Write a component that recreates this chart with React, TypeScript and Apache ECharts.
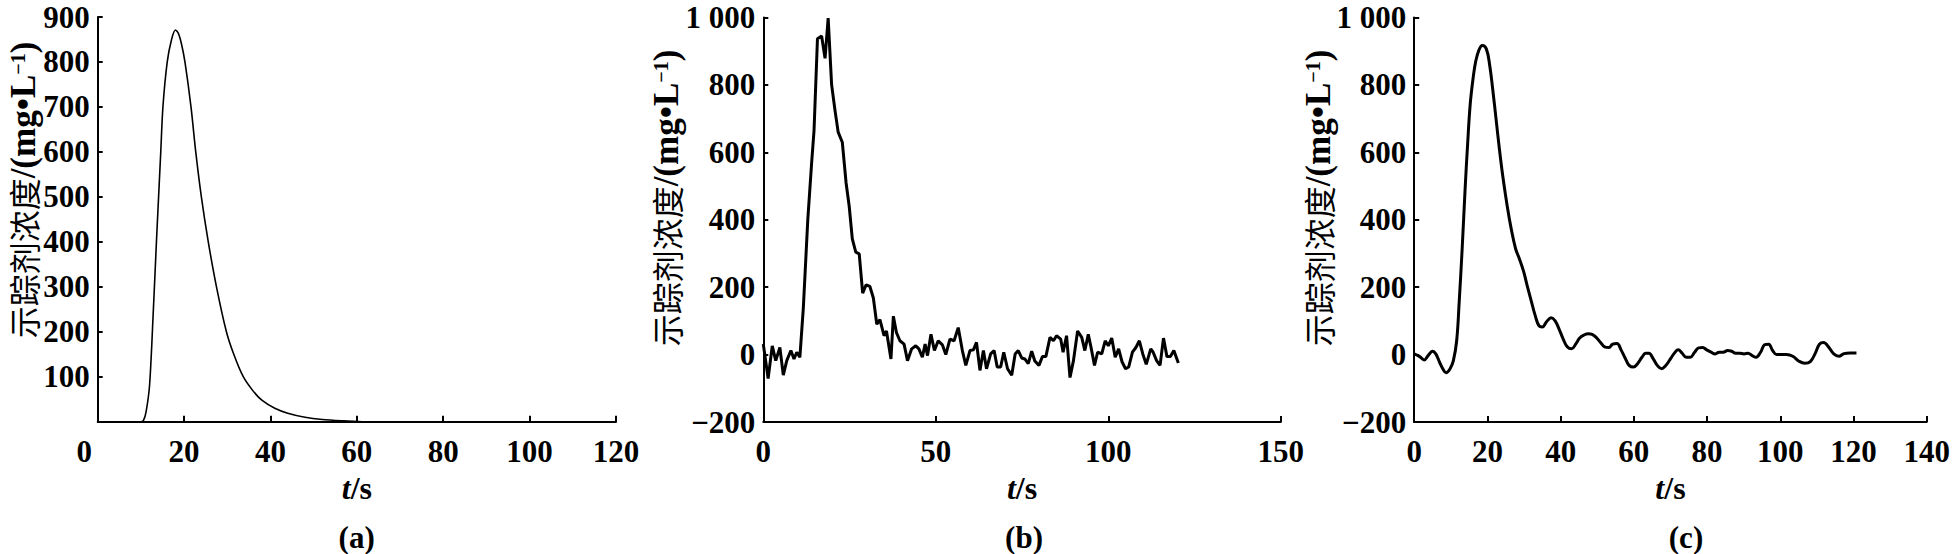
import React, { useEffect, useRef } from "react";
import * as echarts from "echarts";

// ---------- data ----------
// (a) simulated curve
const tA = [0, 10, 10.6, 11.2, 12, 12.8, 13.6, 14.6, 15.1, 16.1, 17.1, 18, 18.7, 19.4, 20.2, 21.6, 22.7, 24, 25.6, 27.5, 29.8, 31.5, 33.7, 36, 38, 41, 44, 48, 52, 57, 62, 120];
const vA = [0, 0, 3, 22, 80, 230, 400, 600, 700, 800, 850, 871, 863, 840, 800, 700, 600, 500, 400, 300, 200, 150, 100, 68, 48, 30, 19, 10, 5, 2, 0, 0];

// (b) measured (noisy) curve
const tB = [0, 1.4, 2.6, 3.6, 4.8, 5.8, 6.8, 8, 8.9, 9.7, 10.6, 11.6, 12.9, 14, 14.7, 15.7, 16.9, 17.9, 18.8, 19.8, 20.8, 21.7, 22.9, 24, 24.9, 25.8, 26.8, 27.8, 28.8, 29.8, 30.9, 31.9, 32.9, 33.8, 35, 35.7, 37, 37.7, 38.6, 39.6, 40.8, 41.8, 43, 44.2, 45.1, 46.1, 46.9, 47.6, 48.6, 49.6, 50.7, 51.9, 52.9, 54.1, 55.3, 56.5, 57.7, 58.7, 59.9, 60.9, 61.8, 62.8, 63.8, 64.7, 65.9, 66.9, 67.8, 68.8, 69.7, 70.8, 72, 73, 73.9, 74.9, 75.8, 76.8, 77.8, 78.7, 79.9, 80.9, 81.9, 83.1, 84.1, 85, 86.2, 86.9, 87.9, 88.9, 89.9, 91.1, 92.3, 93.2, 94.2, 95, 96, 96.9, 98.1, 99.1, 100, 101, 102, 103, 104, 105, 105.9, 107, 108, 109, 110, 111, 112.3, 113, 114, 115, 116, 117, 118, 119, 120.3];
const vB = [31, -71, 26, -18, 21, -61, -18, 12, -13, 7, -8, 138, 401, 567, 664, 937, 945, 879, 998, 801, 723, 660, 630, 509, 440, 343, 304, 299, 182, 207, 202, 168, 90, 104, 56, 70, -13, 114, 65, 41, 31, -18, 17, 26, 17, -8, 31, -3, 60, 12, 41, 29, 0, 46, 41, 80, 12, -32, 12, 14, 36, -47, 12, -42, 2, 12, -37, -37, 7, -42, -61, 2, 12, -10, -13, -27, 10, -19, -32, -6, -6, 51, 41, 56, 46, 7, 56, -68, -18, 70, 51, 12, 60, 21, -32, 7, 2, 41, 26, 49, -8, 17, -22, -42, -37, 7, 21, 41, 2, -29, 17, 7, -18, -32, 49, -6, -6, 12, -25];

// (c) filtered curve
const tC = [0, 1.5, 2.7, 3.8, 5, 5.9, 6.9, 7.8, 8.7, 9.8, 10.7, 11.6, 12.3, 13.1, 13.9, 14.6, 15.3, 16.1, 16.8, 17.7, 18.6, 19.7, 20.6, 21.5, 22.4, 23.3, 24.2, 25.4, 26.5, 27.7, 28.7, 29.9, 30.8, 32, 33.1, 34.1, 35, 36.2, 37.4, 38.5, 39.6, 40.7, 41.8, 43, 44.1, 45.2, 46.4, 47.5, 48.6, 49.7, 50.9, 52, 53.2, 54.2, 55.4, 56.5, 57.6, 58.7, 59.9, 61, 62.2, 63.2, 64.1, 65.3, 66.4, 67.6, 68.6, 69.8, 70.9, 72.1, 73.2, 74.3, 75.4, 76.6, 77.7, 78.8, 79.9, 81.1, 82.2, 83.3, 84.4, 85.6, 86.7, 87.8, 88.9, 90.1, 91.2, 92.3, 93.4, 94.6, 95.7, 96.8, 97.9, 99, 100.2, 101.7, 103.4, 105, 106.7, 108.2, 109.6, 110.7, 111.8, 113.3, 114.6, 116, 117.4, 119.1, 120.8];
const vC = [2, -6, -16, -3, 10, 2, -22, -42, -54, -42, -18, 41, 158, 314, 490, 626, 743, 821, 870, 904, 917, 907, 860, 782, 695, 607, 529, 441, 373, 314, 285, 246, 207, 158, 114, 85, 82, 98, 109, 100, 75, 46, 23, 17, 31, 49, 58, 62, 60, 51, 36, 23, 21, 31, 33, 14, -10, -32, -37, -27, -8, 4, 4, -13, -32, -42, -34, -16, 2, 14, 4, -8, -8, 7, 20, 21, 14, 7, 2, 7, 7, 12, 10, 4, 4, 2, 4, -3, -8, 7, 29, 31, 12, 0, 0, 0, -5, -19, -26, -21, 5, 31, 36, 21, 2, -5, 3, 5, 5];

// axis ranges / ticks
const xMax = [120, 150, 140];
const xInterval = [20, 50, 20];
const yMin = [0, -200, -200];
const yMax = [900, 1000, 1000];
const yInterval = [100, 200, 200];
const panelLabels = ["(a)", "(b)", "(c)"];
const yNameText = "{c|示踪剂浓度}{l|/(mg•L}{s|−1}{l|)}";
const xNameText = "{i|t}/s";

const FONT = "Liberation Serif";
const CJK = "Noto Sans CJK SC";

const pairs = (t: number[], v: number[]) => t.map((x, i) => [x, v[i]]);

export default function App() {
  const ref = useRef<HTMLDivElement>(null);

  useEffect(() => {
    if (!ref.current) return;
    const chart = echarts.init(ref.current, null, { renderer: "svg" });

    const grids = [
      { left: 97.7, top: 17, width: 518.3, height: 404.7 },
      { left: 763.3, top: 17.5, width: 517.5, height: 404.5 },
      { left: 1414.2, top: 17.5, width: 519.2, height: 404.5 },
    ];

    const labelStyle = {
      fontSize: 31,
      fontWeight: "bold" as const,
      fontFamily: FONT,
      color: "#000",
    };

    const xAxes = [0, 1, 2].map((i) => ({
      type: "value" as const,
      gridIndex: i,
      min: 0,
      max: xMax[i],
      interval: xInterval[i],
      axisLine: { show: true, onZero: false, lineStyle: { color: "#000", width: 2 } },
      axisTick: { show: true, inside: true, length: 6, lineStyle: { color: "#000", width: 2 } },
      splitLine: { show: false },
      axisLabel: {
        ...labelStyle,
        margin: 14,
        formatter: (v: number) => (i === 0 && v === 0 ? "{z|0}" : String(v)),
        rich: { z: { ...labelStyle, padding: [0, 27, 0, 0] } },
      },
      name: xNameText,
      nameLocation: "middle" as const,
      nameGap: 48,
      nameTextStyle: {
        fontSize: 32,
        fontWeight: "bold" as const,
        fontFamily: FONT,
        color: "#000",
        rich: {
          i: { fontSize: 32, fontWeight: "bold", fontStyle: "italic", fontFamily: FONT, color: "#000" },
        },
      },
    }));

    const fmtY = (i: number) => (v: number) => {
      if (i === 0 && v === 0) return "";
      if (v === 1000) return "1 000";
      if (v < 0) return "−" + Math.abs(v);
      return String(v);
    };

    const yAxes = [0, 1, 2].map((i) => ({
      type: "value" as const,
      gridIndex: i,
      min: yMin[i],
      max: yMax[i],
      interval: yInterval[i],
      axisLine: { show: true, lineStyle: { color: "#000", width: 2 } },
      axisTick: { show: true, inside: true, length: 5, lineStyle: { color: "#000", width: 2 } },
      splitLine: { show: false },
      axisLabel: { ...labelStyle, lineHeight: 22, margin: 8, formatter: fmtY(i) },
    }));

    const seriesData = [pairs(tA, vA), pairs(tB, vB), pairs(tC, vC)];
    const widths = [1.6, 3, 3];
    const smooth = [0.3, false, 0.4];
    const series = [0, 1, 2].map((i) => ({
      type: "line" as const,
      xAxisIndex: i,
      yAxisIndex: i,
      data: seriesData[i],
      showSymbol: false,
      symbol: "none",
      smooth: smooth[i] as any,
      lineStyle: { color: "#000", width: widths[i] },
    }));

    const nameCenters = [
      [23, 190],
      [666, 198],
      [1318, 198],
    ];
    const panelCenters = [
      [356.7, 537],
      [1024, 537],
      [1686, 537],
    ];

    const graphic: any[] = [];
    nameCenters.forEach(([x, y]) => {
      graphic.push({
        type: "text",
        x,
        y,
        rotation: Math.PI / 2,
        style: {
          text: yNameText,
          align: "center",
          verticalAlign: "middle",
          fill: "#000",
          rich: {
            c: { fontSize: 32, fontFamily: CJK, fill: "#000", lineHeight: 30 },
            l: { fontSize: 35, fontWeight: "bold", fontFamily: FONT, fill: "#000", lineHeight: 30 },
            s: { fontSize: 20, fontWeight: "bold", fontFamily: FONT, fill: "#000", lineHeight: 18, verticalAlign: "top" },
          },
        },
      });
    });
    panelCenters.forEach(([x, y], i) => {
      graphic.push({
        type: "text",
        x,
        y,
        style: {
          text: panelLabels[i],
          align: "center",
          verticalAlign: "middle",
          fill: "#000",
          fontSize: 31,
          fontWeight: "bold",
          fontFamily: FONT,
          lineHeight: 31,
        },
      });
    });

    chart.setOption({
      animation: false,
      backgroundColor: "#fff",
      grid: grids,
      xAxis: xAxes,
      yAxis: yAxes,
      series,
      graphic,
    });

    return () => chart.dispose();
  }, []);

  return (
    <div
      ref={ref}
      style={{ position: "absolute", left: 0, top: 0, width: 1953, height: 554 }}
    />
  );
}
